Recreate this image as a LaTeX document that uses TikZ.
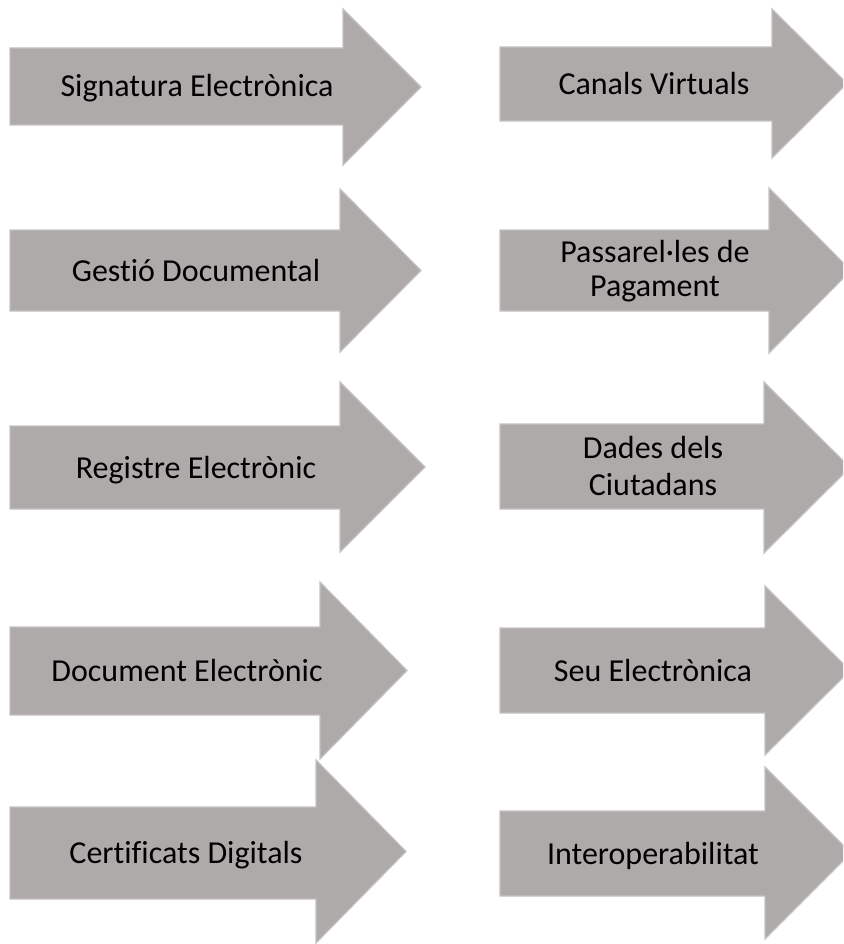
\documentclass[tikz,border=0pt]{standalone}
\usepackage{fontspec}
\setmainfont{Carlito}[Ligatures={NoCommon}]
\definecolor{arrowfill}{HTML}{AEAAAA}
\definecolor{arrowline}{HTML}{C4C1C1}
\newcommand\grayarrow[7]{%
  \filldraw[arrowshape] (#1,#2) -- (#4,#2) -- (#4,#5) -- (#7,{(#5+#6)/2}) -- (#4,#6) -- (#4,#3) -- (#1,#3) -- cycle;}
\begin{document}
\begin{tikzpicture}[x=1pt,y=-1pt,
  arrowshape/.style={fill=arrowfill,draw=arrowline,line width=1.2pt,line join=miter},
  lbl/.style={font=\fontsize{32}{35}\selectfont,inner sep=0pt,anchor=base,text=black}]
\useasboundingbox (0,0) rectangle (843,944);
\clip (0,0) rectangle (843,944);
% left column
\grayarrow{10}{48}{125}{343}{9}{165}{421}
\grayarrow{10}{230}{311}{340}{189}{352}{421}
\grayarrow{10}{426}{509}{340}{382}{552}{425}
\grayarrow{10}{627}{715}{320}{582}{759}{407}
\grayarrow{10}{807}{899}{316}{760}{943}{406}
% right column
\grayarrow{500}{47}{121}{772}{9}{158}{847}
\grayarrow{500}{230}{311}{769}{188}{353}{851}
\grayarrow{500}{424}{509}{764}{382}{553}{850}
\grayarrow{500}{628}{713}{765}{586}{755}{850}
\grayarrow{500}{811}{896}{765}{767}{939}{851}
% labels
\node[lbl] (t1) at (197,97) {Signatura Electrònica};
\node[lbl] (t2) at (196,281) {Gestió Documental};
\node[lbl] (t3) at (196,478) {Registre Electrònic};
\node[lbl] (t4) at (187,681) {Document Electrònic};
\node[lbl] (t5) at (186,863) {Certificats Digitals};
\node[lbl] (r1) at (654,95) {Canals Virtuals};
\node[lbl] (r2a) at (655,262.5) {Passarel·les de};
\node[lbl] (r2b) at (655,296.5) {Pagament};
\node[lbl] (r3a) at (653,458.5) {Dades dels};
\node[lbl] (r3b) at (653,495.5) {Ciutadans};
\node[lbl] (r4) at (653,681) {Seu Electrònica};
\node[lbl] (r5) at (653,864) {Interoperabilitat};
\end{tikzpicture}
\end{document}
